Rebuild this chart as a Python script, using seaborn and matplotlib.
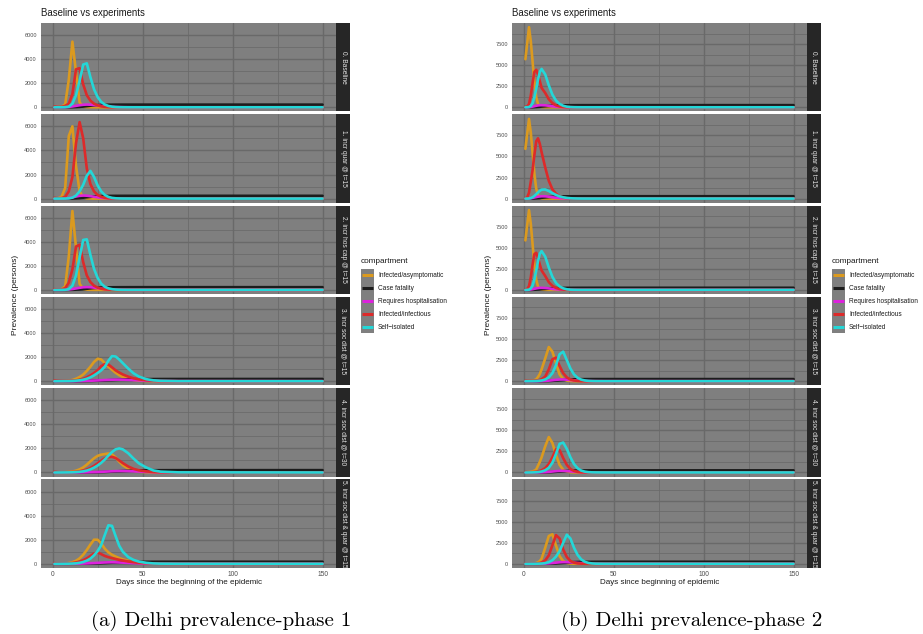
import pandas as pd
import matplotlib
matplotlib.use("Agg")
import matplotlib.pyplot as plt
import seaborn as sns
from matplotlib.patches import Rectangle
from matplotlib.lines import Line2D

L_DAYS = [1, 3, 5, 7, 9, 11, 13, 15, 17, 19, 21, 23, 25, 27, 29, 31, 33, 35, 37, 39, 42, 45, 48, 52, 56, 60, 70, 150]
R_DAYS = [1, 2, 3, 4, 5, 6, 7, 8, 9, 10, 12, 14, 16, 18, 20, 22, 24, 26, 28, 30, 32, 34, 36, 38, 40, 45, 50, 60, 150]

COMPARTMENTS = ["Infected/asymptomatic", "Case fatality", "Requires hospitalisation",
                "Infected/infectious", "Self\u2212isolated"]
COLORS = ["#DB9A1F", "#1C1C1C", "#DD22DD", "#DD2A2A", "#24D7D7"]
SCENARIOS = ["0. Baseline", "1. incr quar @ t=15", "2. incr hos cap @ t=15",
             "3. incr soc dist @ t=15", "4. incr soc dist @ t=30", "5. incr soc dist & quar @ t=15"]

# ---- phase 1 (left) ----
L0_ASYM = [5, 10, 40, 250, 2300, 5450, 2900, 400, 60, 15, 5, 0, 0, 0, 0, 0, 0, 0, 0, 0, 0, 0, 0, 0, 0, 0, 0, 0]
L0_FATAL = [0, 0, 0, 2, 5, 10, 20, 35, 60, 95, 130, 160, 180, 195, 205, 212, 216, 218, 219, 220, 220, 220, 220, 220, 220, 220, 220, 220]
L0_HOSP = [0, 0, 2, 10, 30, 70, 120, 170, 210, 225, 215, 185, 150, 110, 80, 55, 35, 22, 14, 8, 3, 1, 0, 0, 0, 0, 0, 0]
L0_INF = [60, 20, 40, 120, 300, 1100, 3150, 3250, 1900, 1000, 550, 300, 160, 80, 40, 20, 10, 5, 2, 0, 0, 0, 0, 0, 0, 0, 0, 0]
L0_ISO = [0, 0, 2, 10, 50, 300, 1000, 2200, 3550, 3650, 2500, 1500, 850, 450, 230, 110, 50, 20, 8, 3, 0, 0, 0, 0, 0, 0, 0, 0]

L1_ASYM = [5, 20, 150, 900, 5200, 6000, 2700, 600, 100, 20, 5, 0, 0, 0, 0, 0, 0, 0, 0, 0, 0, 0, 0, 0, 0, 0, 0, 0]
L1_FATAL = [0, 0, 0, 2, 5, 12, 25, 45, 75, 110, 145, 175, 195, 208, 217, 222, 225, 227, 228, 229, 230, 230, 230, 230, 230, 230, 230, 230]
L1_HOSP = [0, 0, 3, 15, 45, 100, 170, 230, 255, 240, 200, 150, 105, 70, 45, 28, 17, 10, 6, 3, 1, 0, 0, 0, 0, 0, 0, 0]
L1_INF = [60, 20, 40, 150, 600, 1800, 4600, 6350, 5000, 2500, 1200, 600, 300, 150, 70, 30, 12, 5, 2, 0, 0, 0, 0, 0, 0, 0, 0, 0]
L1_ISO = [0, 0, 2, 5, 20, 80, 250, 600, 1150, 1900, 2300, 1800, 1100, 600, 300, 140, 60, 25, 10, 4, 1, 0, 0, 0, 0, 0, 0, 0]

L2_ASYM = [5, 10, 50, 300, 2800, 6550, 3500, 500, 70, 20, 5, 0, 0, 0, 0, 0, 0, 0, 0, 0, 0, 0, 0, 0, 0, 0, 0, 0]
L2_FATAL = [0, 0, 0, 2, 5, 10, 20, 35, 60, 95, 130, 160, 180, 195, 205, 212, 216, 219, 221, 222, 223, 224, 225, 225, 225, 225, 225, 225]
L2_HOSP = [0, 0, 2, 10, 30, 70, 120, 175, 215, 230, 220, 190, 150, 110, 80, 55, 35, 22, 14, 8, 3, 1, 0, 0, 0, 0, 0, 0]
L2_INF = [60, 20, 40, 150, 600, 1700, 3600, 3750, 2300, 1200, 650, 350, 190, 100, 50, 25, 10, 5, 2, 0, 0, 0, 0, 0, 0, 0, 0, 0]
L2_ISO = [0, 0, 2, 10, 60, 350, 1200, 2700, 4150, 4200, 2900, 1750, 1000, 520, 260, 130, 60, 25, 10, 4, 0, 0, 0, 0, 0, 0, 0, 0]

L3_ASYM = [5, 5, 10, 20, 50, 100, 200, 350, 550, 850, 1200, 1600, 1860, 1800, 1500, 1200, 950, 700, 500, 350, 200, 100, 50, 20, 8, 3, 0, 0]
L3_FATAL = [0, 0, 0, 0, 1, 2, 4, 6, 10, 15, 22, 30, 40, 52, 65, 80, 95, 110, 122, 133, 147, 158, 166, 173, 177, 180, 182, 185]
L3_HOSP = [0, 0, 0, 1, 2, 4, 7, 12, 18, 26, 36, 48, 62, 78, 95, 110, 122, 128, 128, 122, 108, 90, 70, 48, 30, 18, 5, 0]
L3_INF = [60, 20, 10, 15, 25, 40, 70, 120, 200, 320, 480, 680, 900, 1250, 1420, 1380, 1150, 900, 720, 560, 380, 240, 150, 80, 40, 20, 5, 0]
L3_ISO = [0, 0, 2, 5, 10, 20, 40, 70, 120, 200, 320, 480, 680, 900, 1200, 1700, 2080, 2050, 1800, 1500, 1050, 650, 380, 170, 70, 30, 5, 0]

L4_ASYM = [5, 5, 10, 20, 40, 80, 150, 260, 420, 650, 920, 1180, 1380, 1480, 1530, 1580, 1500, 1250, 900, 600, 320, 150, 70, 25, 10, 3, 0, 0]
L4_FATAL = [0, 0, 0, 0, 0, 1, 2, 3, 5, 8, 12, 17, 24, 33, 44, 57, 72, 88, 104, 118, 138, 155, 167, 178, 185, 189, 192, 195]
L4_HOSP = [0, 0, 0, 0, 1, 2, 4, 6, 10, 15, 22, 31, 42, 55, 70, 85, 100, 112, 120, 122, 115, 98, 78, 52, 32, 20, 6, 0]
L4_INF = [60, 20, 10, 15, 25, 40, 60, 100, 160, 250, 380, 550, 760, 980, 1180, 1280, 1300, 1200, 1000, 780, 500, 300, 180, 90, 40, 20, 5, 0]
L4_ISO = [0, 0, 2, 4, 8, 15, 30, 55, 95, 160, 260, 400, 580, 800, 1080, 1400, 1700, 1920, 2000, 1920, 1600, 1150, 750, 420, 170, 70, 10, 0]

L5_ASYM = [5, 5, 10, 25, 60, 130, 250, 450, 750, 1150, 1600, 2000, 2000, 1700, 1250, 950, 750, 600, 470, 370, 250, 150, 80, 35, 15, 5, 0, 0]
L5_FATAL = [0, 0, 0, 0, 1, 2, 3, 5, 8, 12, 18, 26, 36, 48, 62, 77, 92, 106, 118, 128, 141, 151, 158, 164, 167, 169, 170, 170]
L5_HOSP = [0, 0, 0, 1, 2, 4, 7, 12, 20, 30, 44, 60, 78, 95, 110, 120, 124, 120, 110, 96, 75, 55, 38, 22, 12, 6, 1, 0]
L5_INF = [60, 20, 10, 15, 30, 60, 110, 190, 300, 450, 650, 850, 950, 800, 650, 550, 470, 400, 330, 270, 190, 130, 85, 45, 22, 10, 2, 0]
L5_ISO = [0, 0, 2, 5, 10, 20, 40, 80, 150, 260, 430, 700, 1050, 1550, 2400, 3200, 3150, 2300, 1500, 1000, 560, 320, 180, 80, 30, 12, 2, 0]

# ---- phase 2 (right) ----
R0_ASYM = [5700, 7600, 9500, 7800, 5400, 2900, 1200, 400, 130, 40, 10, 3, 1, 0, 0, 0, 0, 0, 0, 0, 0, 0, 0, 0, 0, 0, 0, 0, 0]
R0_FATAL = [0, 0, 2, 5, 12, 22, 35, 50, 67, 85, 120, 155, 185, 210, 225, 235, 242, 246, 248, 250, 251, 252, 252, 253, 253, 254, 254, 255, 255]
R0_HOSP = [0, 5, 15, 40, 80, 130, 180, 220, 245, 250, 230, 180, 120, 75, 45, 25, 13, 6, 3, 1, 0, 0, 0, 0, 0, 0, 0, 0, 0]
R0_INF = [50, 100, 400, 1400, 2900, 4200, 4450, 3900, 3100, 2300, 1700, 950, 500, 230, 100, 45, 18, 7, 2, 0, 0, 0, 0, 0, 0, 0, 0, 0, 0]
R0_ISO = [0, 5, 30, 150, 500, 1200, 2200, 3300, 4200, 4550, 3900, 2600, 1500, 800, 400, 180, 70, 25, 8, 2, 0, 0, 0, 0, 0, 0, 0, 0, 0]

R1_ASYM = [5900, 7700, 9450, 7800, 5400, 2900, 1200, 400, 130, 40, 10, 3, 1, 0, 0, 0, 0, 0, 0, 0, 0, 0, 0, 0, 0, 0, 0, 0, 0]
R1_FATAL = [0, 0, 2, 6, 14, 26, 42, 60, 80, 100, 140, 180, 212, 236, 252, 262, 268, 272, 275, 277, 278, 279, 279, 280, 280, 280, 280, 280, 280]
R1_HOSP = [0, 5, 15, 40, 80, 130, 180, 225, 255, 275, 270, 220, 160, 105, 65, 38, 20, 10, 5, 2, 0, 0, 0, 0, 0, 0, 0, 0, 0]
R1_INF = [50, 150, 700, 2000, 3400, 5200, 6800, 7150, 6500, 5500, 3700, 2100, 1100, 580, 280, 130, 55, 22, 8, 3, 0, 0, 0, 0, 0, 0, 0, 0, 0]
R1_ISO = [0, 3, 15, 60, 160, 320, 520, 730, 920, 1060, 1080, 900, 650, 430, 260, 150, 80, 40, 18, 8, 3, 1, 0, 0, 0, 0, 0, 0, 0]

R2_ASYM = [5870, 7700, 9470, 7800, 5400, 2900, 1200, 400, 130, 40, 10, 3, 1, 0, 0, 0, 0, 0, 0, 0, 0, 0, 0, 0, 0, 0, 0, 0, 0]
R2_FATAL = [0, 0, 2, 5, 12, 22, 35, 50, 67, 85, 118, 150, 180, 204, 220, 230, 237, 241, 244, 246, 247, 248, 248, 249, 249, 250, 250, 250, 250]
R2_HOSP = [0, 5, 15, 40, 80, 130, 175, 215, 240, 245, 225, 175, 118, 73, 43, 24, 12, 6, 3, 1, 0, 0, 0, 0, 0, 0, 0, 0, 0]
R2_INF = [50, 100, 450, 1500, 3000, 4250, 4400, 3800, 3000, 2300, 1650, 920, 480, 230, 100, 45, 18, 7, 2, 0, 0, 0, 0, 0, 0, 0, 0, 0, 0]
R2_ISO = [0, 5, 30, 160, 520, 1250, 2300, 3400, 4300, 4600, 3950, 2650, 1550, 820, 410, 185, 72, 26, 8, 2, 0, 0, 0, 0, 0, 0, 0, 0, 0]

R3_ASYM = [20, 25, 35, 50, 80, 130, 220, 500, 850, 1400, 2700, 4050, 3500, 2100, 800, 250, 70, 20, 5, 1, 0, 0, 0, 0, 0, 0, 0, 0, 0]
R3_FATAL = [0, 0, 0, 0, 1, 1, 2, 3, 4, 6, 12, 25, 45, 75, 110, 145, 175, 200, 218, 230, 238, 243, 246, 248, 249, 250, 250, 250, 250]
R3_HOSP = [0, 0, 0, 1, 2, 3, 5, 8, 12, 18, 35, 65, 110, 160, 195, 200, 180, 145, 105, 70, 45, 27, 16, 9, 5, 1, 0, 0, 0]
R3_INF = [50, 30, 20, 25, 35, 50, 75, 110, 160, 240, 550, 1400, 2600, 2800, 1800, 950, 450, 200, 85, 35, 14, 5, 2, 0, 0, 0, 0, 0, 0]
R3_ISO = [0, 0, 2, 4, 8, 14, 22, 35, 55, 85, 200, 450, 950, 1900, 3200, 3500, 2500, 1500, 800, 400, 190, 85, 35, 14, 5, 1, 0, 0, 0]

R4_ASYM = [20, 30, 50, 80, 130, 220, 360, 800, 1250, 1800, 3100, 4200, 3500, 2100, 900, 330, 110, 35, 10, 3, 0, 0, 0, 0, 0, 0, 0, 0, 0]
R4_FATAL = [0, 0, 0, 0, 1, 1, 2, 3, 5, 7, 14, 28, 50, 80, 115, 150, 180, 204, 222, 234, 241, 245, 248, 250, 251, 252, 252, 252, 252]
R4_HOSP = [0, 0, 0, 1, 2, 4, 6, 9, 14, 20, 38, 70, 115, 160, 190, 192, 170, 135, 98, 65, 42, 25, 15, 8, 4, 1, 0, 0, 0]
R4_INF = [50, 30, 25, 30, 40, 60, 90, 130, 190, 270, 520, 1000, 1800, 2750, 2650, 1700, 900, 420, 180, 70, 28, 10, 4, 0, 0, 0, 0, 0, 0]
R4_ISO = [0, 0, 2, 5, 10, 18, 30, 48, 75, 115, 260, 560, 1150, 2200, 3400, 3550, 2800, 1800, 1000, 500, 230, 100, 40, 15, 6, 1, 0, 0, 0]

R5_ASYM = [10, 12, 15, 20, 30, 50, 90, 170, 320, 600, 1900, 3300, 3500, 2150, 900, 320, 100, 30, 8, 2, 0, 0, 0, 0, 0, 0, 0, 0, 0]
R5_FATAL = [0, 0, 0, 0, 0, 1, 1, 2, 3, 4, 8, 16, 30, 52, 82, 115, 148, 176, 198, 213, 223, 229, 233, 236, 238, 240, 240, 240, 240]
R5_HOSP = [0, 0, 0, 0, 1, 2, 3, 5, 8, 12, 25, 50, 90, 135, 175, 195, 195, 175, 140, 100, 65, 40, 23, 12, 6, 1, 0, 0, 0]
R5_INF = [50, 20, 10, 10, 15, 25, 40, 65, 100, 160, 400, 1000, 2200, 3400, 3000, 1700, 800, 340, 130, 50, 18, 6, 2, 0, 0, 0, 0, 0, 0]
R5_ISO = [0, 0, 0, 1, 2, 4, 7, 12, 20, 32, 80, 190, 420, 850, 1500, 2500, 3450, 3000, 1900, 1050, 520, 240, 100, 40, 15, 2, 0, 0, 0]

LEFT = [[L0_ASYM, L0_FATAL, L0_HOSP, L0_INF, L0_ISO],
        [L1_ASYM, L1_FATAL, L1_HOSP, L1_INF, L1_ISO],
        [L2_ASYM, L2_FATAL, L2_HOSP, L2_INF, L2_ISO],
        [L3_ASYM, L3_FATAL, L3_HOSP, L3_INF, L3_ISO],
        [L4_ASYM, L4_FATAL, L4_HOSP, L4_INF, L4_ISO],
        [L5_ASYM, L5_FATAL, L5_HOSP, L5_INF, L5_ISO]]
RIGHT = [[R0_ASYM, R0_FATAL, R0_HOSP, R0_INF, R0_ISO],
         [R1_ASYM, R1_FATAL, R1_HOSP, R1_INF, R1_ISO],
         [R2_ASYM, R2_FATAL, R2_HOSP, R2_INF, R2_ISO],
         [R3_ASYM, R3_FATAL, R3_HOSP, R3_INF, R3_ISO],
         [R4_ASYM, R4_FATAL, R4_HOSP, R4_INF, R4_ISO],
         [R5_ASYM, R5_FATAL, R5_HOSP, R5_INF, R5_ISO]]

frames = []
for panel, days, facets in (("a", L_DAYS, LEFT), ("b", R_DAYS, RIGHT)):
    for scen, series in zip(SCENARIOS, facets):
        for comp, vals in zip(COMPARTMENTS, series):
            assert len(vals) == len(days), (panel, scen, comp)
            frames.append(pd.DataFrame({"panel": panel, "scenario": scen,
                                        "compartment": comp, "day": days, "value": vals}))
df = pd.concat(frames, ignore_index=True)

sns.set_theme(style="white")
plt.rcParams["font.family"] = ["Liberation Sans", "DejaVu Sans"]

W, H = 923, 634
fig = plt.figure(figsize=(W / 100, H / 100), dpi=100)


def px_axes(x, y, w, h):
    return fig.add_axes([x / W, 1 - (y + h) / H, w / W, h / H])


PANELS = [
    dict(key="a", x0=41, ylim=(-333, 7000), yt=[0, 2000, 4000, 6000], ymin=[1000, 3000, 5000],
         xlab="Days since the beginning of the epidemic", cap="(a) Delhi prevalence-phase 1",
         capx=221, ylabx=16, legx=361),
    dict(key="b", x0=512, ylim=(-476, 10000), yt=[0, 2500, 5000, 7500], ymin=[1250, 3750, 6250, 8750],
         xlab="Days since beginning of epidemic", cap="(b) Delhi prevalence-phase 2",
         capx=692, ylabx=488, legx=832),
]
PW, PH, TOP, STEP, SW = 295, 88.3, 23, 91.3, 14

for p in PANELS:
    for i, scen in enumerate(SCENARIOS):
        top = TOP + i * STEP
        ax = px_axes(p["x0"], top, PW, PH)
        sub = df[(df.panel == p["key"]) & (df.scenario == scen)]
        sns.lineplot(data=sub, x="day", y="value", hue="compartment", hue_order=COMPARTMENTS,
                     palette=COLORS, estimator=None, linewidth=1.9, legend=False, ax=ax)
        ax.set_facecolor("#7F7F7F")
        ax.set_xlim(-6.45, 157.45)
        ax.set_ylim(*p["ylim"])
        ax.set_xticks([0, 50, 100, 150])
        ax.set_xticks([25, 75, 125], minor=True)
        ax.set_yticks(p["yt"])
        ax.set_yticks(p["ymin"], minor=True)
        ax.grid(which="major", color="#696969", linewidth=1.0)
        ax.grid(which="minor", color="#696969", linewidth=0.55)
        ax.set_axisbelow(True)
        for sp in ax.spines.values():
            sp.set_visible(False)
        ax.set_xlabel("")
        ax.set_ylabel("")
        ax.tick_params(which="minor", length=0)
        ax.tick_params(axis="y", which="major", length=2, width=0.5, color="#333333",
                       labelsize=4.1, labelcolor="#4D4D4D", pad=1)
        if i < len(SCENARIOS) - 1:
            ax.tick_params(axis="x", which="major", length=0, labelbottom=False)
        else:
            ax.tick_params(axis="x", which="major", length=1.5, width=0.5, color="#333333",
                           labelsize=4.8, labelcolor="#4D4D4D", pad=1)

        strip = px_axes(p["x0"] + PW, top, SW, PH)
        strip.set_facecolor("#262626")
        strip.set_xticks([])
        strip.set_yticks([])
        for sp in strip.spines.values():
            sp.set_visible(False)
        strip.text(0.5, 0.5, scen, rotation=-90, ha="center", va="center", fontsize=4.8,
                   color="#E5E5E5", transform=strip.transAxes, clip_on=False)

    fig.text(p["x0"] / W, 1 - 13 / H, "Baseline vs experiments", fontsize=6.9, va="center",
             color="#1A1A1A")
    fig.text((p["x0"] + PW / 2) / W, 1 - 582.7 / H, p["xlab"], fontsize=5.8, ha="center",
             va="center", color="#1A1A1A")
    fig.text(p["ylabx"] / W, 1 - 295 / H, "Prevalence (persons)", fontsize=6, rotation=90,
             ha="center", va="center", color="#1A1A1A")
    fig.text(p["capx"] / W, 1 - 621 / H, p["cap"], fontsize=15, ha="center", va="center",
             family="cmr10", color="black")

    # legend, ggplot style
    lx, ly, kw, kh = p["legx"], 269, 12.7, 12.9
    fig.text(lx / W, 1 - 261.7 / H, "compartment", fontsize=5.9, va="center", color="#1A1A1A")
    fig.add_artist(Rectangle((lx / W, 1 - (ly + 5 * kh) / H), kw / W, 5 * kh / H,
                             transform=fig.transFigure, facecolor="#7F7F7F", edgecolor="none"))
    for k, (comp, col) in enumerate(zip(COMPARTMENTS, COLORS)):
        yc = 1 - (ly + kh / 2 + k * kh) / H
        fig.add_artist(Line2D([(lx + 1.2) / W, (lx + kw - 1.2) / W], [yc, yc], color=col,
                              linewidth=2.2, transform=fig.transFigure, solid_capstyle="butt"))
        fig.text((lx + kw + 4.3) / W, yc, comp, fontsize=4.7, va="center", color="#1A1A1A")

fig.savefig("out.png", dpi=100)
